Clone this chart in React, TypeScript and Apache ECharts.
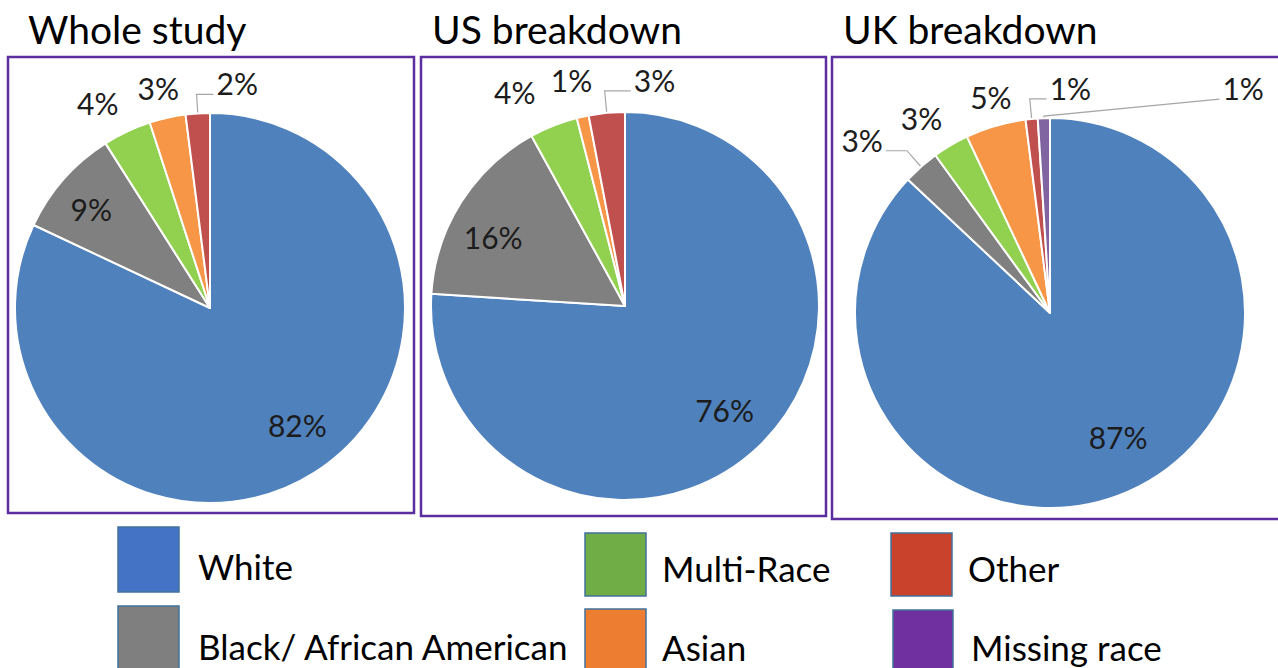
import React, { useEffect, useRef } from "react";
import * as echarts from "echarts";

// ---------- data ----------
const categories = ["White", "Black/ African American", "Multi-Race", "Asian", "Other", "Missing race"];
const panelTitles = ["Whole study", "US breakdown", "UK breakdown"];
const wholeStudy = [82, 9, 4, 3, 2];
const usBreakdown = [76, 16, 4, 1, 3];
const ukBreakdown = [87, 3, 3, 5, 1, 1];

// ---------- styles ----------
const sliceColors = ["#4F81BD", "#808080", "#92D050", "#F79646", "#C0504D", "#8064A2"];
const legendColors = ["#4472C4", "#7F7F7F", "#70AD47", "#ED7D31", "#C9432C", "#7030A0"];
const FONT = "Lato, 'Noto Sans', sans-serif";
const BOX_COLOR = "#5C2D9E";

type Spec = { inside?: boolean; dx: number; dy: number; leader?: "elbow" | "straight" };

const panels = [
  {
    values: wholeStudy,
    center: [210, 308],
    r: 195,
    box: [8, 57, 406, 456],
    titleX: 28,
    spec: [
      { inside: true, dx: 9, dy: -6 },
      { inside: true, dx: -9, dy: -2 },
      { dx: -19, dy: -7 },
      { dx: -4, dy: -6 },
      { dx: 41, dy: -6, leader: "elbow" },
    ] as Spec[],
  },
  {
    values: usBreakdown,
    center: [625, 306],
    r: 194,
    box: [421, 57, 405, 459],
    titleX: 432,
    spec: [
      { inside: true, dx: 0, dy: -2 },
      { inside: true, dx: -9, dy: 9 },
      { dx: -30, dy: -11 },
      { dx: -6, dy: -13 },
      { dx: 50, dy: -9, leader: "elbow" },
    ] as Spec[],
  },
  {
    values: ukBreakdown,
    center: [1050, 313],
    r: 195,
    box: [832, 57, 480, 462],
    titleX: 843,
    spec: [
      { inside: true, dx: 10, dy: -10 },
      { dx: -43, dy: -9, leader: "elbow" },
      { dx: -17, dy: -6 },
      { dx: 2, dy: -6 },
      { dx: 41, dy: -7, leader: "elbow" },
      { dx: 200, dy: -6, leader: "straight" },
    ] as Spec[],
  },
];

const legendBoxes = [
  [118, 527, 61, 65],
  [118, 606, 61, 64],
  [585, 533, 61, 63],
  [585, 609, 61, 61],
  [891, 533, 61, 63],
  [893, 610, 60, 60],
];
const legendTextPos = [
  [198, 566],
  [198, 646],
  [662, 568],
  [662, 647],
  [968, 568],
  [971, 647],
];

function makeLabelLayout(values: number[], panel: any) {
  const total = values.reduce((a, b) => a + b, 0);
  const mids: number[] = [];
  let acc = 0;
  values.forEach((v) => {
    mids.push(((acc + v / 2) / total) * 2 * Math.PI);
    acc += v;
  });
  return (params: any) => {
    const i = params.dataIndex;
    const s: Spec = panel.spec[i];
    const a = mids[i];
    const dirX = Math.sin(a);
    const dirY = -Math.cos(a);
    const [cx, cy] = panel.center;
    const base = s.inside ? panel.r * 0.75 : panel.r + 24;
    const x = cx + base * dirX + s.dx;
    const y = cy + base * dirY + s.dy;
    const out: any = { x, y, align: "center", verticalAlign: "middle" };
    if (s.leader) {
      const w = params.labelRect.width;
      const p0 = [cx + panel.r * dirX, cy + panel.r * dirY];
      const endY = y + 11;
      let p1: number[];
      if (s.leader === "elbow") {
        const t = Math.max(3, (p0[1] - endY) / Math.max(0.2, -dirY));
        p1 = [p0[0] + dirX * t, p0[1] + dirY * t];
      } else {
        p1 = [p0[0] + dirX * 2, p0[1] + dirY * 2];
      }
      const right = x > p1[0];
      const p2 = [right ? x - w / 2 - 3 : x + w / 2 + 3, endY];
      out.labelLinePoints = [p0, p1, p2];
    }
    return out;
  };
}

export default function App() {
  const ref = useRef<HTMLDivElement>(null);
  useEffect(() => {
    document.body.style.margin = "0";
    if (!ref.current) return;
    const chart = echarts.init(ref.current, undefined, { renderer: "svg" });

    const series = panels.map((p) => ({
      type: "pie",
      center: p.center,
      radius: [0, p.r],
      startAngle: 90,
      clockwise: true,
      avoidLabelOverlap: false,
      silent: true,
      itemStyle: { borderColor: "#ffffff", borderWidth: 2 },
      label: {
        show: true,
        position: "outside",
        formatter: (d: any) => d.value + "%",
        fontFamily: FONT,
        fontSize: 30,
        color: "#1c1c1c",
      },
      labelLine: { show: true, length: 8, length2: 8, lineStyle: { color: "#A6A6A6", width: 1.2 } },
      labelLayout: makeLabelLayout(p.values, p),
      data: p.values.map((v, i) => ({
        name: categories[i],
        value: v,
        itemStyle: { color: sliceColors[i] },
        labelLine: { show: !!p.spec[i].leader },
      })),
    }));

    const graphic: any[] = [];
    panels.forEach((p, k) => {
      graphic.push({
        type: "rect",
        shape: { x: p.box[0], y: p.box[1], width: p.box[2], height: p.box[3] },
        style: { fill: "none", stroke: BOX_COLOR, lineWidth: 2.5 },
        z: 1,
      });
      graphic.push({
        type: "text",
        x: p.titleX,
        y: 29,
        style: {
          text: panelTitles[k],
          font: `39px ${FONT}`,
          fill: "#000000",
          textVerticalAlign: "middle",
          verticalAlign: "middle",
        },
      });
    });
    categories.forEach((c, i) => {
      const b = legendBoxes[i];
      graphic.push({
        type: "rect",
        shape: { x: b[0], y: b[1], width: b[2], height: b[3] },
        style: { fill: legendColors[i], stroke: "#41719C", lineWidth: 1.5 },
      });
      graphic.push({
        type: "text",
        x: legendTextPos[i][0],
        y: legendTextPos[i][1],
        style: {
          text: c,
          font: `35px ${FONT}`,
          fill: "#000000",
          verticalAlign: "middle",
          textVerticalAlign: "middle",
        },
      });
    });

    chart.setOption({
      animation: false,
      backgroundColor: "#ffffff",
      series,
      graphic,
    } as any);
    return () => chart.dispose();
  }, []);
  return (
    <div
      ref={ref}
      style={{ width: 1278, height: 668, position: "absolute", left: 0, top: 0 }}
    />
  );
}
